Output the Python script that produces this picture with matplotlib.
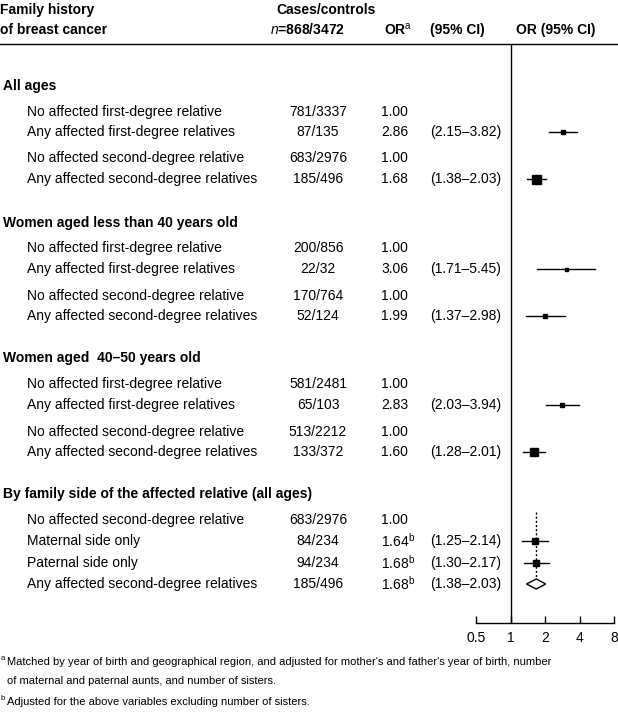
import matplotlib
matplotlib.use('Agg')
import matplotlib.pyplot as plt
from matplotlib.patches import Polygon
import numpy as np

plt.rcParams['font.family'] = ['Liberation Sans', 'DejaVu Sans']
plt.rcParams['mathtext.fontset'] = 'custom'
plt.rcParams['mathtext.rm'] = 'Liberation Sans'
plt.rcParams['mathtext.it'] = 'Liberation Sans:italic'
plt.rcParams['mathtext.bf'] = 'Liberation Sans:bold'

# ---- data ----
group_titles = ['All ages',
                'Women aged less than 40 years old',
                'Women aged  40\u201350 years old',
                'By family side of the affected relative (all ages)']
row_labels = [
    'No affected first-degree relative', 'Any affected first-degree relatives',
    'No affected second-degree relative', 'Any affected second-degree relatives',
    'No affected first-degree relative', 'Any affected first-degree relatives',
    'No affected second-degree relative', 'Any affected second-degree relatives',
    'No affected first-degree relative', 'Any affected first-degree relatives',
    'No affected second-degree relative', 'Any affected second-degree relatives',
    'No affected second-degree relative', 'Maternal side only',
    'Paternal side only', 'Any affected second-degree relatives',
]
cases = ['781/3337', '87/135', '683/2976', '185/496',
         '200/856', '22/32', '170/764', '52/124',
         '581/2481', '65/103', '513/2212', '133/372',
         '683/2976', '84/234', '94/234', '185/496']
or_vals = [1.00, 2.86, 1.00, 1.68,
           1.00, 3.06, 1.00, 1.99,
           1.00, 2.83, 1.00, 1.60,
           1.00, 1.64, 1.68, 1.68]
or_sup = ['', '', '', '', '', '', '', '', '', '', '', '', '', 'b', 'b', 'b']
ci_lo = [None, 2.15, None, 1.38, None, 1.71, None, 1.37,
         None, 2.03, None, 1.28, None, 1.25, 1.30, 1.38]
ci_hi = [None, 3.82, None, 2.03, None, 5.45, None, 2.98,
         None, 3.94, None, 2.01, None, 2.14, 2.17, 2.03]
# square side (px), 0 = no box, -1 = pooled diamond
box_px = [0, 5, 0, 9, 0, 3, 0, 4, 0, 5, 0, 8, 0, 6, 6, -1]
xticks = [0.5, 1, 2, 4, 8]
xtick_labels = ['0.5', '1', '2', '4', '8']

# ---- layout (pixels from top) ----
W, H = 618, 716
title_y = [86, 223, 358, 494]
row_y = [112, 132, 158, 179, 248, 269, 296, 316,
         384, 405, 432, 452, 520, 541, 563, 584]
fs = 10

fig = plt.figure(figsize=(W / 100, H / 100), dpi=100)
tx = fig.add_axes([0, 0, 1, 1])
tx.set_xlim(0, W)
tx.set_ylim(H, 0)
tx.axis('off')

# headers
tx.text(0, 10, 'Family history', fontsize=fs, fontweight='bold', va='center')
tx.text(0, 30, 'of breast cancer', fontsize=fs, fontweight='bold', va='center')
tx.text(276, 10, 'Cases/controls', fontsize=fs, fontweight='bold', va='center')
tx.text(270, 30, r'$\mathit{n}$=868/3472', fontsize=fs, fontweight='bold', va='center')
tx.text(384, 30, r'$\mathbf{OR}^{\mathrm{a}}$', fontsize=fs, va='center')
tx.text(430, 30, '(95% CI)', fontsize=fs, fontweight='bold', va='center')
tx.text(516, 30, 'OR (95% CI)', fontsize=fs, fontweight='bold', va='center')
tx.plot([0, W], [44, 44], color='black', lw=1.0)

for t, y in zip(group_titles, title_y):
    tx.text(3, y, t, fontsize=fs, fontweight='bold', va='center')

for i, y in enumerate(row_y):
    tx.text(27, y, row_labels[i], fontsize=fs, va='center')
    tx.text(318, y, cases[i], fontsize=fs, va='center', ha='center')
    s = '%.2f' % or_vals[i]
    if or_sup[i]:
        s += r'$^{\mathrm{%s}}$' % or_sup[i]
    tx.text(381, y, s, fontsize=fs, va='center')
    if ci_lo[i] is not None:
        tx.text(430, y, '(%.2f\u2013%.2f)' % (ci_lo[i], ci_hi[i]), fontsize=fs, va='center')

# footnotes
fn = 8.0
tx.text(1, 659, 'a', fontsize=5.6, va='center')
tx.text(7, 662, "Matched by year of birth and geographical region, and adjusted for mother's and father's year of birth, number",
        fontsize=fn, va='center')
tx.text(7, 681, 'of maternal and paternal aunts, and number of sisters.', fontsize=fn, va='center')
tx.text(1, 699, 'b', fontsize=5.6, va='center')
tx.text(7, 702, 'Adjusted for the above variables excluding number of sisters.', fontsize=fn, va='center')

# forest axes
x0, x1, ytop, ybot = 476, 614, 44, 623
ax = fig.add_axes([x0 / W, 1 - ybot / H, (x1 - x0) / W, (ybot - ytop) / H])
ax.set_xscale('log')
ax.set_xlim(0.5, 8)
ax.set_ylim(ybot, ytop)
ax.patch.set_alpha(0)
for sp in ['top', 'right', 'left']:
    ax.spines[sp].set_visible(False)
ax.spines['bottom'].set_linewidth(1.0)
ax.set_yticks([])
ax.set_xticks(xticks)
ax.set_xticklabels(xtick_labels, fontsize=fs)
ax.minorticks_off()
ax.tick_params(axis='x', direction='in', length=5, width=1.0, pad=6)
ax.axvline(1, color='black', lw=1.0)

for i, y in enumerate(row_y):
    if ci_lo[i] is None:
        continue
    if box_px[i] == -1:
        d = Polygon([[ci_lo[i], y], [or_vals[i], y - 5], [ci_hi[i], y], [or_vals[i], y + 5]],
                    closed=True, facecolor='white', edgecolor='black', lw=1.0, zorder=3)
        ax.add_patch(d)
    else:
        ax.plot([ci_lo[i], ci_hi[i]], [y, y], color='black', lw=1.0)
        ax.plot(or_vals[i], y, marker='s', ms=box_px[i] * 0.72, color='black')

# dotted line through pooled estimate
ax.plot([or_vals[15], or_vals[15]], [row_y[12] - 8, row_y[15] - 5], color='black', lw=1.0,
        linestyle=(0, (1.5, 1.5)), zorder=2)

fig.savefig('out.png', dpi=100)
